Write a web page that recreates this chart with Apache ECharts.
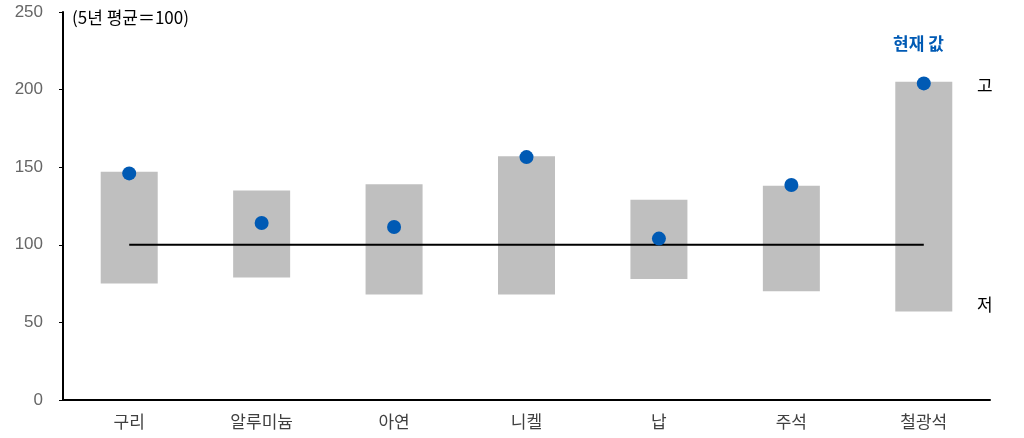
<!DOCTYPE html>
<html>
<head>
<meta charset="utf-8">
<script src="https://cdn.jsdelivr.net/npm/echarts@6/dist/echarts.min.js"></script>
<style>
  html, body { margin: 0; padding: 0; background: #fff; }
  #chart { width: 1024px; height: 438px; }
</style>
</head>
<body>
<div id="chart"></div>
<script>
// Commodity prices relative to the 5-year average (=100)
const categories = ['구리', '알루미늄', '아연', '니켈', '납', '주석', '철광석'];
const lowValues = [75, 79, 68, 68, 78, 70, 57];
const highValues = [147, 135, 139, 157, 129, 138, 205];
const currentValues = [146, 114, 111.5, 156.5, 104, 138.5, 204];
const averageValues = [100, 100, 100, 100, 100, 100, 100];
const yTicks = [0, 50, 100, 150, 200, 250];

const FONT = '"Noto Sans CJK KR", "Noto Sans", sans-serif';
const NUM_FONT = '"Liberation Sans", Arial, sans-serif';

const chart = echarts.init(document.getElementById('chart'));
chart.setOption({
  animation: false,
  backgroundColor: '#fff',
  textStyle: { fontFamily: FONT },
  grid: { left: 63, right: 34, top: 12, bottom: 38 },
  xAxis: {
    type: 'category',
    data: categories,
    axisLine: { lineStyle: { color: '#000', width: 2 } },
    axisTick: { show: false },
    axisLabel: { color: '#404040', fontSize: 17, margin: 13, fontFamily: FONT }
  },
  yAxis: {
    type: 'value',
    min: yTicks[0],
    max: yTicks[yTicks.length - 1],
    interval: 50,
    axisLine: { show: true, lineStyle: { color: '#000', width: 2 } },
    axisTick: { show: true, length: 4, lineStyle: { color: '#000' } },
    splitLine: { show: false },
    axisLabel: { color: '#666666', fontSize: 17, margin: 20, fontFamily: NUM_FONT }
  },
  series: [
    {
      name: 'base',
      type: 'bar',
      stack: 'range',
      barWidth: 57,
      itemStyle: { color: 'transparent' },
      data: lowValues
    },
    {
      name: 'range',
      type: 'bar',
      stack: 'range',
      barWidth: 57,
      itemStyle: { color: '#bfbfbf' },
      data: highValues.map((h, i) => +(h - lowValues[i]).toFixed(2))
    },
    {
      name: 'average',
      type: 'line',
      data: averageValues,
      symbol: 'none',
      lineStyle: { color: '#000', width: 2 },
      z: 3
    },
    {
      name: 'current',
      type: 'scatter',
      data: currentValues,
      symbolSize: 14,
      itemStyle: { color: '#005ab4', opacity: 1 },
      z: 4
    }
  ],
  graphic: [
    { type: 'text', left: 72, top: 9, style: { text: '(5년 평균＝100)', fill: '#000', font: '17px ' + FONT } },
    { type: 'text', left: 893, top: 35, style: { text: '현재 값', fill: '#005ab4', font: 'bold 17px ' + FONT } },
    { type: 'text', left: 977, top: 77, style: { text: '고', fill: '#000', font: '17px ' + FONT } },
    { type: 'text', left: 977, top: 296, style: { text: '저', fill: '#000', font: '17px ' + FONT } }
  ]
});
</script>
</body>
</html>
